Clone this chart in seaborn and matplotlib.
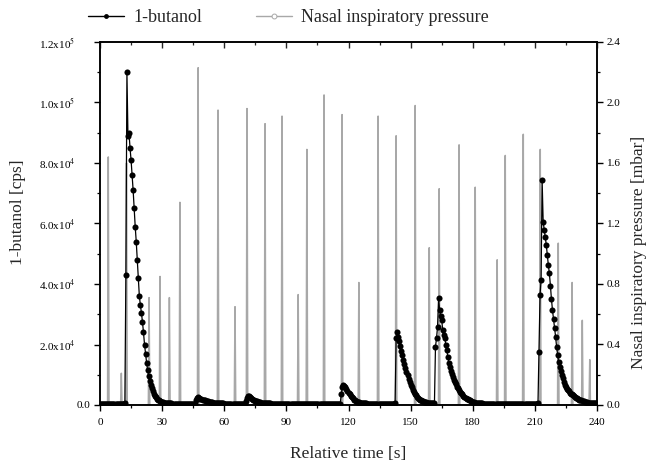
import numpy as np
import pandas as pd
import matplotlib
matplotlib.use("Agg")
import matplotlib.pyplot as plt
from matplotlib.lines import Line2D
from matplotlib.ticker import MultipleLocator, FuncFormatter
import seaborn as sns

# ---------------- data ----------------
# 1-butanol signal (k cps), sampled every 0.5 s from 0 to 240 s
time_s = np.arange(0, 240.5, 0.5)
butanol_k = [
    0.4, 0.4, 0.4, 0.4, 0.4, 0.4, 0.4, 0.4, 0.4, 0.4, 0.4, 0.4, 0.4, 0.4, 0.4, 0.4, 0.4, 0.4, 0.4, 0.4,
    0.4, 0.4, 0.4, 0.4, 0.5, 43.0, 110.0, 89.0, 90.0, 85.0, 81.0, 76.0, 71.0, 65.0, 59.0, 54.0, 48.0, 42.0, 36.0, 33.0,
    30.5, 27.5, 24.0, 20.0, 17.0, 14.0, 11.5, 9.5, 8.0, 6.5, 5.5, 4.5, 3.6, 3.0, 2.5, 2.1, 1.8, 1.5, 1.3, 1.1,
    1.0, 0.9, 0.8, 0.7, 0.6, 0.6, 0.5, 0.5, 0.5, 0.5, 0.4, 0.4, 0.4, 0.4, 0.4, 0.4, 0.4, 0.4, 0.4, 0.4,
    0.4, 0.4, 0.4, 0.4, 0.4, 0.4, 0.4, 0.4, 0.4, 0.4, 0.4, 0.4, 0.4, 1.5, 2.3, 2.5, 2.3, 2.1, 1.9, 1.8,
    1.6, 1.5, 1.4, 1.3, 1.2, 1.1, 1.0, 0.9, 0.9, 0.8, 0.8, 0.7, 0.7, 0.6, 0.6, 0.6, 0.5, 0.5, 0.5, 0.5,
    0.4, 0.4, 0.4, 0.4, 0.4, 0.4, 0.4, 0.4, 0.4, 0.4, 0.4, 0.4, 0.4, 0.4, 0.4, 0.4, 0.4, 0.4, 0.4, 0.4,
    0.4, 1.2, 2.4, 3.0, 2.9, 2.6, 2.3, 2.0, 1.8, 1.6, 1.4, 1.3, 1.2, 1.1, 1.0, 0.9, 0.8, 0.8, 0.7, 0.7,
    0.6, 0.6, 0.5, 0.5, 0.5, 0.4, 0.4, 0.4, 0.4, 0.4, 0.4, 0.4, 0.4, 0.4, 0.4, 0.4, 0.4, 0.4, 0.4, 0.4,
    0.4, 0.4, 0.4, 0.4, 0.4, 0.4, 0.4, 0.4, 0.4, 0.4, 0.4, 0.4, 0.4, 0.4, 0.4, 0.4, 0.4, 0.4, 0.4, 0.4,
    0.4, 0.4, 0.4, 0.4, 0.4, 0.4, 0.4, 0.4, 0.4, 0.4, 0.4, 0.4, 0.4, 0.4, 0.4, 0.4, 0.4, 0.4, 0.4, 0.4,
    0.4, 0.4, 0.4, 0.4, 0.4, 0.4, 0.4, 0.4, 0.4, 0.4, 0.4, 0.4, 0.4, 3.5, 5.8, 6.6, 6.3, 5.8, 5.2, 4.6,
    4.0, 3.5, 3.0, 2.6, 2.2, 1.8, 1.5, 1.3, 1.1, 1.0, 0.9, 0.8, 0.7, 0.6, 0.6, 0.5, 0.5, 0.5, 0.4, 0.4,
    0.4, 0.4, 0.4, 0.4, 0.4, 0.4, 0.4, 0.4, 0.4, 0.4, 0.4, 0.4, 0.4, 0.4, 0.4, 0.4, 0.4, 0.4, 0.4, 0.4,
    0.4, 0.4, 0.4, 0.4, 0.4, 0.5, 22.0, 24.2, 22.5, 21.0, 19.5, 18.0, 16.5, 15.0, 13.5, 12.2, 11.0, 9.8, 8.6, 7.6,
    6.7, 5.9, 5.1, 4.4, 3.8, 3.3, 2.8, 2.4, 2.1, 1.8, 1.6, 1.4, 1.2, 1.1, 1.0, 0.9, 0.8, 0.7, 0.6, 0.6,
    0.5, 0.5, 0.5, 0.5, 19.3, 22.0, 25.9, 35.3, 31.4, 29.5, 28.1, 24.8, 23.0, 22.0, 20.0, 18.2, 16.0, 13.8, 12.5, 11.2,
    10.2, 9.2, 8.3, 7.5, 6.8, 6.1, 5.5, 4.9, 4.4, 3.9, 3.5, 3.1, 2.7, 2.4, 2.1, 1.9, 1.7, 1.5, 1.3, 1.1,
    1.0, 0.9, 0.8, 0.7, 0.7, 0.6, 0.6, 0.5, 0.5, 0.5, 0.4, 0.4, 0.4, 0.4, 0.4, 0.4, 0.4, 0.4, 0.4, 0.4,
    0.4, 0.4, 0.4, 0.4, 0.4, 0.4, 0.4, 0.4, 0.4, 0.4, 0.4, 0.4, 0.4, 0.4, 0.4, 0.4, 0.4, 0.4, 0.4, 0.4,
    0.4, 0.4, 0.4, 0.4, 0.4, 0.4, 0.4, 0.4, 0.4, 0.4, 0.4, 0.4, 0.4, 0.4, 0.4, 0.4, 0.4, 0.4, 0.4, 0.4,
    0.4, 0.4, 0.4, 0.5, 17.6, 36.4, 41.3, 74.4, 60.6, 58.0, 55.6, 53.0, 49.6, 46.3, 43.5, 39.5, 35.0, 31.4, 28.5, 25.5,
    22.6, 19.2, 16.5, 14.2, 12.6, 11.3, 10.0, 8.8, 7.6, 6.6, 5.9, 5.3, 4.9, 4.5, 4.1, 3.8, 3.5, 3.2, 2.9, 2.6,
    2.4, 2.2, 2.0, 1.8, 1.6, 1.5, 1.3, 1.2, 1.1, 1.0, 0.9, 0.8, 0.8, 0.7, 0.7, 0.6, 0.6, 0.6, 0.5, 0.5,
    0.5,
]

# Nasal inspiratory pressure: breath peak times (s) and peak pressures (mbar)
breath_t = [4.0, 10.3, 12.8, 23.7, 29.0, 33.5, 38.6, 47.4, 57.0, 65.2, 71.0, 79.7,
            87.9, 95.7, 99.9, 108.2, 116.9, 125.0, 134.3, 143.0, 152.2, 159.0,
            163.8, 173.4, 181.2, 191.8, 195.7, 204.4, 212.6, 221.3, 228.0, 232.9, 236.5]
breath_p = [1.64, 0.21, 1.60, 0.71, 0.85, 0.71, 1.34, 2.23, 1.95, 0.65, 1.96, 1.86,
            1.91, 0.73, 1.69, 2.05, 1.92, 0.81, 1.91, 1.78, 1.98, 1.04,
            1.43, 1.72, 1.44, 0.96, 1.65, 1.79, 1.69, 1.07, 0.81, 0.56, 0.30]

x_ticks = [0, 30, 60, 90, 120, 150, 180, 210, 240]

# ---------------- build frames ----------------
but_df = pd.DataFrame({"t": time_s, "cps": np.array(butanol_k) * 1000.0})

half_w = 0.35
pt, pv = [0.0], [0.0]
for tb, pb in zip(breath_t, breath_p):
    pt += [tb - half_w, tb, tb + half_w]
    pv += [0.0, pb, 0.0]
pt.append(240.0); pv.append(0.0)
pres_df = pd.DataFrame({"t": pt, "p": pv})

# ---------------- style ----------------
sns.set_theme(style="ticks")
plt.rcParams["font.family"] = ["Liberation Serif", "DejaVu Serif"]
plt.rcParams["mathtext.fontset"] = "stix"
plt.rcParams["axes.linewidth"] = 1.1

fig = plt.figure(figsize=(6.53, 4.67), dpi=100)
ax = fig.add_axes([100 / 653, 62 / 467, 497 / 653, 363 / 467])
ax2 = ax.twinx()

gray = "#a8a8a8"
sns.lineplot(data=pres_df, x="t", y="p", ax=ax2, color=gray, linewidth=1.1,
             estimator=None, sort=False)
sns.lineplot(data=but_df, x="t", y="cps", ax=ax, color="black", linewidth=0.9,
             marker="o", markersize=4.4, markeredgewidth=0, estimator=None, sort=False)

ax.set_zorder(ax2.get_zorder() + 1)
ax.patch.set_visible(False)

ax.set_xlim(0, 240)
ax.set_ylim(0, 1.2e5)
ax2.set_ylim(0, 2.4)

ax.set_xticks(x_ticks)
ax.xaxis.set_minor_locator(MultipleLocator(15))
ax.yaxis.set_major_locator(MultipleLocator(2e4))
ax.yaxis.set_minor_locator(MultipleLocator(1e4))
ax2.yaxis.set_major_locator(MultipleLocator(0.4))
ax2.yaxis.set_minor_locator(MultipleLocator(0.2))


def sci_fmt(v, pos):
    if v == 0:
        return "0.0"
    e = int(np.floor(np.log10(abs(v))))
    m = v / 10 ** e
    return r"%.1fx10$^{%d}$" % (m, e) + "      "


ax.yaxis.set_major_formatter(FuncFormatter(sci_fmt))
ax2.yaxis.set_major_formatter(FuncFormatter(lambda v, p: "%.1f" % v))

for a in (ax, ax2):
    for s in a.spines.values():
        s.set_color("black")
        s.set_linewidth(1.1)
    a.tick_params(which="major", direction="out", length=4.5, width=1.0,
                  labelsize=8, colors="black", pad=2.5)
    a.tick_params(which="minor", direction="out", length=2.5, width=0.9, colors="black")
ax.tick_params(axis="x", which="major", pad=5)

top = ax.secondary_xaxis("top")
top.set_xticks(x_ticks)
top.xaxis.set_minor_locator(MultipleLocator(15))
top.tick_params(which="major", direction="in", length=4.5, width=1.0, labeltop=False)
top.tick_params(which="minor", direction="in", length=2.5, width=0.9)
top.spines["top"].set_linewidth(1.1)

ax.set_xlabel("Relative time [s]", fontsize=12.5)
ax.set_ylabel("1-butanol [cps]", fontsize=12.5)
ax2.set_ylabel("Nasal inspiratory pressure [mbar]", fontsize=12.5)
ax.xaxis.set_label_coords(0.5, -0.113)
ax.yaxis.set_label_coords(-0.149, 0.53)
ax2.yaxis.set_label_coords(1.068, 0.42)

handles = [
    Line2D([], [], color="black", linewidth=1.0, marker="o", markersize=3.5,
           markeredgewidth=0),
    Line2D([], [], color=gray, linewidth=1.0, marker="o", markersize=3.5,
           markerfacecolor="white", markeredgecolor=gray, markeredgewidth=0.7),
]
fig.legend(handles, ["1-butanol", "Nasal inspiratory pressure"], ncol=2,
           loc="center left", bbox_to_anchor=(88 / 653, 1 - 18 / 467), frameon=False,
           borderpad=0, borderaxespad=0,
           fontsize=13, handlelength=2.0, handletextpad=0.5, columnspacing=3.0)

fig.savefig("out.png", dpi=100)
